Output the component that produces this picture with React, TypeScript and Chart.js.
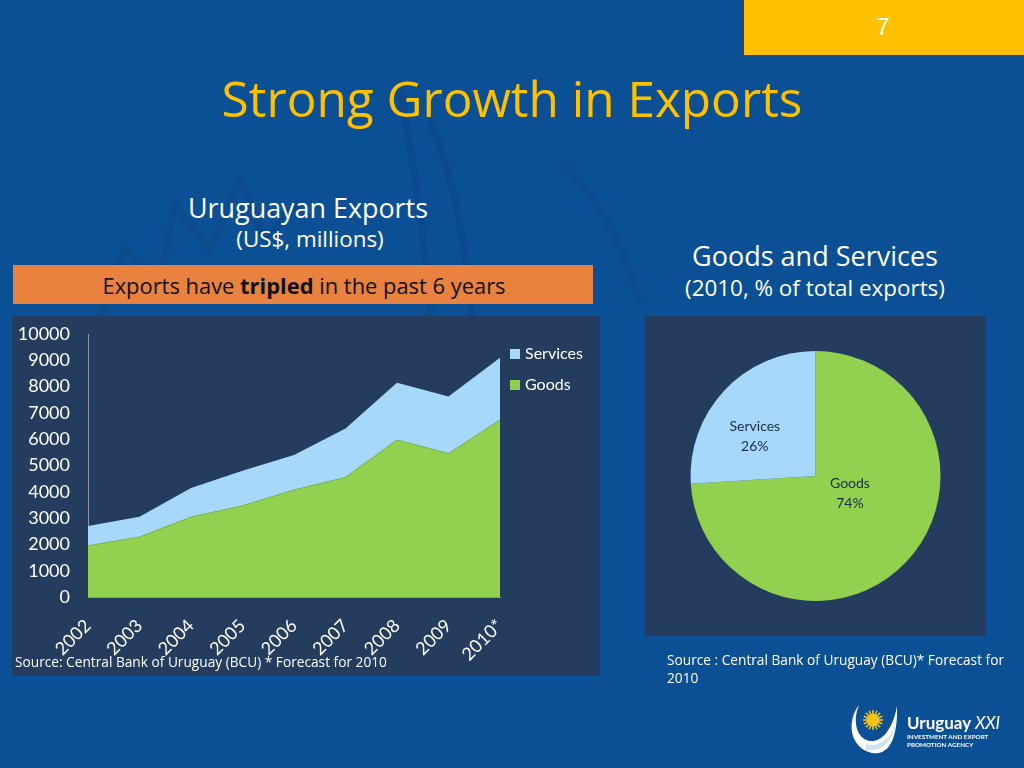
import React, { useEffect, useRef } from "react";
import { Chart, registerables } from "chart.js";

Chart.register(...registerables);

// ---- data ----
const years = ["2002", "2003", "2004", "2005", "2006", "2007", "2008", "2009", "2010*"];
const goodsValues = [1950, 2280, 3040, 3470, 4070, 4550, 5970, 5460, 6730];
const servicesValues = [750, 770, 1100, 1330, 1330, 1860, 2180, 2160, 2370];
const yMax = 10000;
const yStep = 1000;
const pieLabels = ["Goods", "Services"];
const pieShares = [74, 26];
const pieLabelRadius = [0.31, 0.58];
const pieLabelAngleShift = [-16, -10]; // degrees

// ---- style ----
const GREEN = "#92d050";
const LIGHT_BLUE = "#a6d8fc";
const PANEL = "#243c5e";
const BG = "#0b4f94";
const GOLD = "#ffc000";
const FONT = "Lato, 'Open Sans', sans-serif";
const TEXT_FONT = "'Open Sans', Lato, sans-serif";

type TxtProps = {
  x: number;
  baseline: number;
  size: number;
  color?: string;
  align?: "center" | "left";
  weight?: number;
  family?: string;
  children: React.ReactNode;
};

function Txt({ x, baseline, size, color = "#fff", align = "center", weight = 400, family = TEXT_FONT, children }: TxtProps) {
  const top = baseline - 0.888 * size;
  const style: React.CSSProperties = {
    position: "absolute",
    top,
    fontSize: size,
    lineHeight: `${size}px`,
    color,
    fontWeight: weight,
    fontFamily: family,
    whiteSpace: "nowrap",
  };
  if (align === "center") {
    style.left = x - 400;
    style.width = 800;
    style.textAlign = "center";
  } else {
    style.left = x;
  }
  return <div style={style}>{children}</div>;
}

const pieLabelPlugin = {
  id: "pieLabels",
  afterDatasetsDraw(chart: any) {
    const ctx = chart.ctx;
    const meta = chart.getDatasetMeta(0);
    ctx.save();
    ctx.fillStyle = "#1c2b48";
    ctx.font = `14px ${FONT}`;
    ctx.textAlign = "center";
    ctx.textBaseline = "middle";
    meta.data.forEach((arc: any, i: number) => {
      const p = arc.getProps(["x", "y", "startAngle", "endAngle", "outerRadius"], true);
      const mid = (p.startAngle + p.endAngle) / 2 + (pieLabelAngleShift[i] * Math.PI) / 180;
      const r = p.outerRadius * pieLabelRadius[i];
      const cx = p.x + Math.cos(mid) * r;
      const cy = p.y + Math.sin(mid) * r;
      ctx.fillText(String(chart.data.labels[i]), cx, cy - 10);
      ctx.fillText(`${chart.data.datasets[0].data[i]}%`, cx, cy + 10);
    });
    ctx.restore();
  },
};

const sideLegendPlugin = {
  id: "sideLegend",
  afterDraw(chart: any) {
    const { ctx, chartArea } = chart;
    const items = chart.data.datasets.slice().reverse();
    ctx.save();
    ctx.font = `16px ${FONT}`;
    ctx.textBaseline = "middle";
    ctx.textAlign = "left";
    items.forEach((d: any, i: number) => {
      const x = chartArea.right + 10;
      const y = chartArea.top + 20 + i * 31;
      ctx.fillStyle = d.backgroundColor;
      ctx.fillRect(x, y - 5, 10, 10);
      ctx.fillStyle = "#ffffff";
      ctx.fillText(d.label, x + 15, y);
    });
    ctx.restore();
  },
};

export default function App() {
  const areaRef = useRef<HTMLCanvasElement>(null);
  const pieRef = useRef<HTMLCanvasElement>(null);

  useEffect(() => {
    Chart.defaults.font.family = FONT;
    const area = new Chart(areaRef.current!, {
      type: "line",
      data: {
        labels: years,
        datasets: [
          {
            label: "Goods",
            data: goodsValues,
            fill: "origin",
            backgroundColor: GREEN,
            borderColor: "#7fb947",
            borderWidth: 1,
            pointRadius: 0,
            tension: 0,
          },
          {
            label: "Services",
            data: servicesValues,
            fill: "-1",
            backgroundColor: LIGHT_BLUE,
            borderColor: LIGHT_BLUE,
            borderWidth: 0,
            pointRadius: 0,
            tension: 0,
          },
        ],
      },
      options: {
        animation: false,
        responsive: false,
        maintainAspectRatio: false,
        layout: { padding: { top: 18, right: 100, left: 0, bottom: 0 } },
        scales: {
          x: {
            offset: false,
            grid: { display: false, drawTicks: false },
            border: { display: true, color: "#8796ab", width: 1 },
            ticks: {
              color: "#fff",
              font: { size: 18 },
              minRotation: 45,
              maxRotation: 45,
              autoSkip: false,
              padding: 18,
            },
            afterFit: (s: any) => {
              s.height = 79;
            },
          },
          y: {
            stacked: true,
            min: 0,
            max: yMax,
            grid: { display: false, drawTicks: false },
            border: { display: true, color: "#8796ab", width: 1 },
            ticks: {
              stepSize: yStep,
              color: "#fff",
              font: { size: 18 },
              padding: 18,
              callback: (v: any) => String(v),
            },
            afterFit: (s: any) => {
              s.width = 76;
              s.paddingTop = 0;
              s.paddingBottom = 0;
            },
          },
        },
        plugins: {
          legend: { display: false },
          tooltip: { enabled: false },
        },
      } as any,
      plugins: [sideLegendPlugin],
    });

    const pie = new Chart(pieRef.current!, {
      type: "pie",
      data: {
        labels: pieLabels,
        datasets: [
          {
            data: pieShares,
            backgroundColor: [GREEN, LIGHT_BLUE],
            borderWidth: 0,
            hoverOffset: 0,
          },
        ],
      },
      options: {
        animation: false,
        responsive: false,
        maintainAspectRatio: false,
        layout: { padding: { top: 35, bottom: 35, left: 0, right: 0 } },
        plugins: { legend: { display: false }, tooltip: { enabled: false } },
      } as any,
      plugins: [pieLabelPlugin],
    });

    return () => {
      area.destroy();
      pie.destroy();
    };
  }, []);

  return (
    <div
      style={{
        position: "fixed",
        left: 0,
        top: 0,
        width: 1024,
        height: 768,
        background: BG,
        overflow: "hidden",
        fontFamily: TEXT_FONT,
      }}
    >
      {/* faint background decoration */}
      <svg width={1024} height={768} style={{ position: "absolute", left: 0, top: 0 }}>
        <g fill="none" stroke="#0a4684" strokeWidth={7} opacity={0.45}>
          <path d="M 100 320 L 125 250 L 160 280 L 175 205 L 210 250 L 240 180 L 265 240 L 300 200" />
          <path d="M 400 90 C 420 200, 440 330, 430 460" />
          <path d="M 430 120 C 470 220, 480 340, 470 470" />
          <path d="M 560 160 C 600 200, 620 240, 640 300" />
        </g>
      </svg>

      {/* page number box */}
      <div style={{ position: "absolute", left: 744, top: 0, width: 280, height: 55, background: GOLD }} />
      <Txt x={883} baseline={36} size={24} family="'Liberation Sans', Arial, sans-serif">
        7
      </Txt>

      {/* title */}
      <Txt x={512} baseline={118} size={49.5} color={GOLD}>
        Strong Growth in Exports
      </Txt>

      {/* left headings */}
      <Txt x={308} baseline={219} size={26.9}>
        Uruguayan Exports
      </Txt>
      <Txt x={310} baseline={248} size={22.4}>
        (US$, millions)
      </Txt>
      <div style={{ position: "absolute", left: 13, top: 265, width: 580, height: 39, background: "#e8823e" }} />
      <Txt x={304} baseline={294} size={21.9} color="#111">
        Exports have <b>tripled</b> in the past 6 years
      </Txt>

      {/* right headings */}
      <Txt x={815} baseline={266} size={27}>
        Goods and Services
      </Txt>
      <Txt x={815} baseline={297} size={22.4}>
        (2010, % of total exports)
      </Txt>

      {/* left chart panel */}
      <div style={{ position: "absolute", left: 12, top: 316, width: 588, height: 360, background: PANEL }} />
      <canvas
        ref={areaRef}
        width={588}
        height={360}
        style={{ position: "absolute", left: 12, top: 316, width: 588, height: 360 }}
      />
      <Txt x={15} baseline={667} size={13.7} align="left">
        Source: Central Bank of Uruguay (BCU) * Forecast for 2010
      </Txt>

      {/* right chart panel */}
      <div style={{ position: "absolute", left: 645, top: 316, width: 341, height: 320, background: PANEL }} />
      <canvas
        ref={pieRef}
        width={341}
        height={320}
        style={{ position: "absolute", left: 645, top: 316, width: 341, height: 320 }}
      />
      <Txt x={667} baseline={665} size={13.7} align="left">
        Source : Central Bank of Uruguay (BCU)* Forecast for
      </Txt>
      <Txt x={667} baseline={683} size={13.7} align="left">
        2010
      </Txt>

      {/* logo */}
      <svg width={1024} height={768} style={{ position: "absolute", left: 0, top: 0, pointerEvents: "none" }}>
        <path
          d="M 859 705 C 846 722, 850 748, 872 753 C 888 756, 898 740, 897 706 C 893 728, 883 742, 870 741 C 857 739, 852 722, 859 705 Z"
          fill="#ffffff"
        />
        <path d="M 866 744 C 880 748, 892 738, 896 722 C 893 740, 884 752, 866 750 Z" fill="#cfe3f5" />
        <g fill="#f7c31a">
          <circle cx={873} cy={720} r={6.5} />
          {Array.from({ length: 16 }).map((_, i) => {
            const a = (i / 16) * Math.PI * 2;
            return (
              <line
                key={i}
                x1={873 + Math.cos(a) * 6}
                y1={720 + Math.sin(a) * 6}
                x2={873 + Math.cos(a) * 10}
                y2={720 + Math.sin(a) * 10}
                stroke="#f7c31a"
                strokeWidth={1.6}
              />
            );
          })}
        </g>
      </svg>
      <Txt x={907} baseline={729} size={17} align="left" weight={700} family={FONT}>
        Uruguay <span style={{ fontWeight: 400, fontStyle: "italic" }}>XXI</span>
      </Txt>
      <Txt x={907} baseline={740} size={6.3} align="left" weight={700} family={FONT}>
        INVESTMENT AND EXPORT
      </Txt>
      <Txt x={907} baseline={748} size={6.3} align="left" weight={700} family={FONT}>
        PROMOTION AGENCY
      </Txt>
    </div>
  );
}
